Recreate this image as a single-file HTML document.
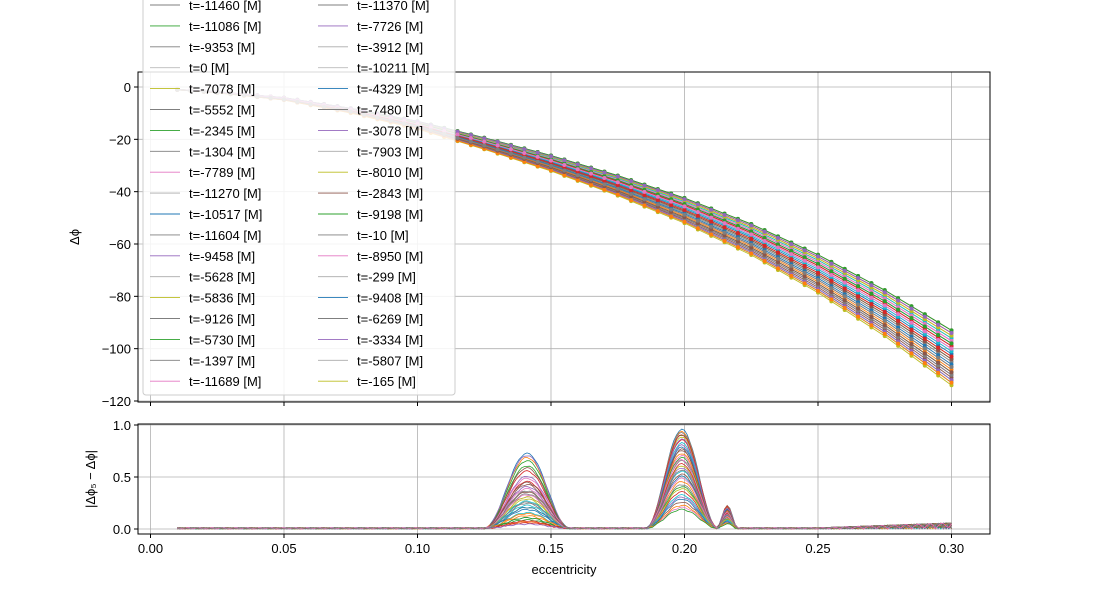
<!DOCTYPE html>
<html><head><meta charset="utf-8"><style>
body{margin:0;background:#fff;}
svg text{font-family:"Liberation Sans","DejaVu Sans",sans-serif;}
</style></head><body>
<svg id="c" width="1100" height="600" xmlns="http://www.w3.org/2000/svg"></svg>
<script>
const labels=["-11460","-11370","-11086","-7726","-9353","-3912","0","-10211","-7078","-4329","-5552","-7480","-2345","-3078","-1304","-7903","-7789","-8010","-11270","-2843","-10517","-9198","-11604","-10","-9458","-8950","-5628","-299","-5836","-9408","-9126","-6269","-5730","-3334","-1397","-5807","-11689","-165"];
const colors=["#7f7f7f","#7f7f7f","#2ca02c","#9467bd","#7f7f7f","#aaaaaa","#bbbbbb","#bbbbbb","#bcbd22","#1f77b4","#7f7f7f","#7f7f7f","#2ca02c","#9467bd","#7f7f7f","#aaaaaa","#e377c2","#bcbd22","#aaaaaa","#8c564b","#1f77b4","#2ca02c","#7f7f7f","#7f7f7f","#9467bd","#e377c2","#aaaaaa","#aaaaaa","#bcbd22","#1f77b4","#7f7f7f","#7f7f7f","#2ca02c","#9467bd","#7f7f7f","#aaaaaa","#e377c2","#bcbd22"];
const tab=["#1f77b4","#ff7f0e","#2ca02c","#d62728","#9467bd","#8c564b","#e377c2","#7f7f7f","#bcbd22","#17becf"];
const endVals=[-112,-95,-104,-99,-110,-93,-101,-107,-96,-113,-98,-103,-109,-94,-100,-111,-97,-105,-114,-96,-102,-108,-93,-99,-112,-104,-97,-110,-95,-101,-106,-113,-98,-103,-94,-109,-100,-107];
const amp1=[0.72,0.68,0.6,0.45,0.4,0.35,0.3,0.25,0.2,0.15,0.1,0.06,0.65,0.55,0.5,0.42,0.38,0.33,0.28,0.22,0.18,0.12,0.08,0.05,0.7,0.58,0.48,0.36,0.3,0.26,0.2,0.14,0.1,0.07,0.04,0.44,0.32,0.24];
const amp2=[0.95,0.93,0.9,0.85,0.8,0.75,0.7,0.65,0.6,0.55,0.5,0.45,0.4,0.35,0.3,0.25,0.2,0.92,0.88,0.82,0.78,0.72,0.68,0.62,0.58,0.52,0.48,0.42,0.38,0.32,0.28,0.22,0.18,0.9,0.86,0.76,0.66,0.56];
const shapeE=[0.01,0.025,0.05,0.075,0.10,0.125,0.15,0.175,0.20,0.225,0.25,0.275,0.30];
const shapeV=[-1,-2,-4.5,-9,-14.5,-21.5,-29,-37.5,-47,-58,-71,-86,-103];
const xTicks=[0,0.05,0.10,0.15,0.20,0.25,0.30];
const yTopTicks=[0,-20,-40,-60,-80,-100,-120];
const yBotTicks=[0,0.5,1.0];
const svg=document.getElementById('c');
const NS="http://www.w3.org/2000/svg";
function mk(t,a,p){const e=document.createElementNS(NS,t);for(const k in a)e.setAttribute(k,a[k]);(p||svg).appendChild(e);return e;}
const X=e=>150.5+2670*e;
const YT=v=>87+(-v)*(314/120);
const YB=v=>529-v*104;
const T={l:138,r:990,t:72,b:402}, B={l:138,r:990,t:424,b:534};
function shape(e){for(let i=0;i<shapeE.length-1;i++){if(e<=shapeE[i+1]){const f=(e-shapeE[i])/(shapeE[i+1]-shapeE[i]);return shapeV[i]+f*(shapeV[i+1]-shapeV[i]);}}return shapeV[shapeV.length-1];}
for(const t of xTicks){
 const g1=mk('line',{x1:X(t),x2:X(t),y1:T.t,y2:T.b,stroke:'#b0b0b0','stroke-width':0.8});
 
 const g2=mk('line',{x1:X(t),x2:X(t),y1:B.t,y2:B.b,stroke:'#b0b0b0','stroke-width':0.8});
 
 mk('line',{x1:X(t),x2:X(t),y1:T.b,y2:T.b+4,stroke:'#000'});
 mk('line',{x1:X(t),x2:X(t),y1:B.b,y2:B.b+4,stroke:'#000'});
 const tx=mk('text',{x:X(t),y:B.b+19,'font-size':13,'text-anchor':'middle'});tx.textContent=t.toFixed(2);
 
}
for(const v of yTopTicks){
 mk('line',{x1:T.l,x2:T.r,y1:YT(v),y2:YT(v),stroke:'#b0b0b0','stroke-width':0.8});
 mk('line',{x1:T.l-4,x2:T.l,y1:YT(v),y2:YT(v),stroke:'#000'});
 const tx=mk('text',{x:T.l-7,y:YT(v)+5,'font-size':13,'text-anchor':'end'});tx.textContent=v===0?'0':'\u2212'+(-v);
 
}
for(const v of yBotTicks){
 mk('line',{x1:B.l,x2:B.r,y1:YB(v),y2:YB(v),stroke:'#b0b0b0','stroke-width':0.8});
 mk('line',{x1:B.l-4,x2:B.l,y1:YB(v),y2:YB(v),stroke:'#000'});
 const tx=mk('text',{x:B.l-7,y:YB(v)+5,'font-size':13,'text-anchor':'end'});tx.textContent=v.toFixed(1);
 
}
const es=[];for(let i=0;i<=58;i++)es.push(0.01+i*0.005);
function bump(e,c,w){const d=(e-c)/w;return Math.abs(d)<1?Math.pow(Math.cos(d*Math.PI/2),2):0;}
endVals.forEach((ev,i)=>{
 const col=tab[i%10];
 const pts=es.map(e=>[X(e),YT(shape(e)*ev/-103)]);
 const pl=mk('polyline',{points:pts.map(p=>p.join(',')).join(' '),fill:'none',stroke:tab[i%10],'stroke-width':0.9});
 
 pts.forEach(p=>mk('circle',{cx:p[0],cy:p[1],r:2,fill:col}));
 const rp=[];for(let k=0;k<=290;k++){const e=0.01+k*0.001;
  let v=amp1[i]*bump(e,0.141,0.016)+amp2[i]*bump(e,0.199,0.0135)+0.22*amp2[i]/0.95*bump(e,0.216,0.004)+0.012*Math.abs(Math.sin(e*700+i))*(e>0.25?1+(e-0.25)*80:1);
  rp.push([X(e),YB(v)]);}
 const r=mk('polyline',{points:rp.map(p=>p[0].toFixed(1)+','+p[1].toFixed(1)).join(' '),fill:'none',stroke:tab[i%10],'stroke-width':0.8});
 
});
const f1=mk('rect',{x:T.l,y:T.t,width:T.r-T.l,height:T.b-T.t,fill:'none',stroke:'#000','stroke-width':1});

const f2=mk('rect',{x:B.l,y:B.t,width:B.r-B.l,height:B.b-B.t,fill:'none',stroke:'#000','stroke-width':1});

const yl=mk('text',{x:0,y:0,'font-size':13,'text-anchor':'middle',transform:'translate(79,237) rotate(-90)'});yl.textContent='Δϕ';

const yl2=mk('text',{x:0,y:0,'font-size':13,'text-anchor':'middle',transform:'translate(95,479) rotate(-90)'});yl2.textContent='|Δϕ₅ − Δϕ|';

const xl=mk('text',{x:564,y:574,'font-size':13,'text-anchor':'middle'});xl.textContent='eccentricity';

const lg=mk('g',{});
mk('rect',{x:143,y:-20,width:312,height:415,rx:3,fill:'rgba(255,255,255,0.85)',stroke:'#ccc'},lg);
labels.forEach((l,i)=>{
 const col=i%2,row=Math.floor(i/2);const y=5+row*20.9;const x0=col?318:150;
 const ln=mk('line',{x1:x0,x2:x0+30,y1:y,y2:y,stroke:colors[i],'stroke-width':0.9},lg);
 
 const t=mk('text',{x:x0+39,y:y+5,'font-size':13},lg);t.textContent='t='+l+' [M]';
 
});
</script>
</body></html>
